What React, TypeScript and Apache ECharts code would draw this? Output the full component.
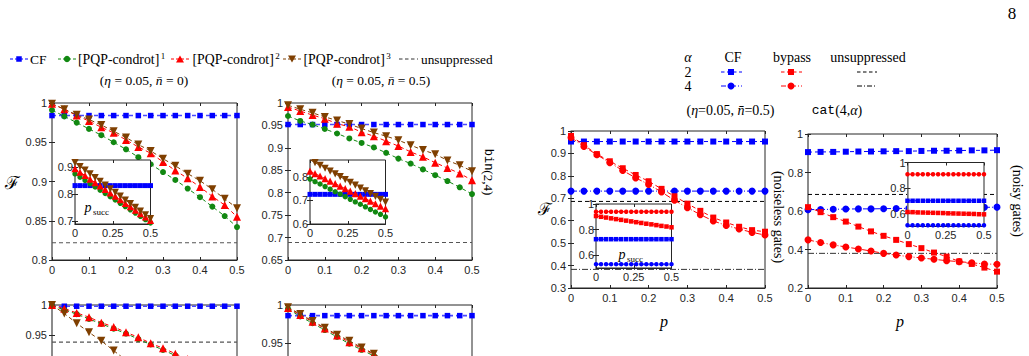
import React, { useEffect, useRef } from "react";
import * as echarts from "echarts";

// ---- sample grid (p) ----
const P = [0, 0.0333, 0.0667, 0.1, 0.1333, 0.1667, 0.2, 0.2333, 0.2667, 0.3, 0.3333, 0.3667, 0.4, 0.4333, 0.4667, 0.5];

// ---- Panel A: (eta=0.05, nbar=0), top-left ----
const A_CF = [0.984, 0.984, 0.984, 0.984, 0.984, 0.984, 0.984, 0.984, 0.984, 0.984, 0.984, 0.984, 0.984, 0.984, 0.984, 0.984];
const A_PQP1 = [0.991, 0.983, 0.975, 0.967, 0.959, 0.95, 0.941, 0.931, 0.922, 0.912, 0.902, 0.891, 0.88, 0.868, 0.856, 0.842];
const A_PQP2 = [0.999, 0.992, 0.984, 0.977, 0.969, 0.962, 0.953, 0.944, 0.936, 0.925, 0.914, 0.904, 0.893, 0.881, 0.87, 0.855];
const A_PQP3 = [0.999, 0.992, 0.985, 0.979, 0.972, 0.964, 0.956, 0.947, 0.939, 0.929, 0.92, 0.91, 0.901, 0.89, 0.878, 0.866];
const A_UNSUP = 0.822;
// inset A (p_succ)
const AI_CF = [0.831, 0.831, 0.831, 0.831, 0.831, 0.831, 0.831, 0.831, 0.831, 0.831, 0.831, 0.831, 0.831, 0.831, 0.831, 0.831];
const AI_PQP1 = [0.874, 0.862, 0.85, 0.838, 0.826, 0.814, 0.802, 0.79, 0.778, 0.766, 0.754, 0.742, 0.73, 0.718, 0.706, 0.694];
const AI_PQP2 = [0.893, 0.88, 0.868, 0.855, 0.842, 0.83, 0.817, 0.804, 0.792, 0.779, 0.766, 0.754, 0.741, 0.728, 0.716, 0.703];
const AI_PQP3 = [0.915, 0.901, 0.888, 0.874, 0.86, 0.847, 0.833, 0.819, 0.806, 0.792, 0.778, 0.765, 0.751, 0.737, 0.724, 0.71];

// ---- Panel B: (eta=0.05, nbar=0.5) ----
const B_CF = [0.952, 0.952, 0.952, 0.952, 0.952, 0.952, 0.952, 0.952, 0.952, 0.952, 0.952, 0.952, 0.952, 0.952, 0.952, 0.952];
const B_PQP1 = [0.971, 0.96, 0.952, 0.942, 0.932, 0.921, 0.911, 0.901, 0.889, 0.876, 0.865, 0.852, 0.839, 0.826, 0.812, 0.797];
const B_PQP2 = [0.991, 0.982, 0.973, 0.965, 0.954, 0.947, 0.935, 0.926, 0.915, 0.904, 0.891, 0.88, 0.867, 0.855, 0.843, 0.828];
const B_PQP3 = [0.995, 0.986, 0.978, 0.969, 0.961, 0.953, 0.943, 0.934, 0.926, 0.917, 0.906, 0.895, 0.886, 0.872, 0.861, 0.848];
const B_UNSUP = 0.689;
const BI_CF = [0.726, 0.726, 0.726, 0.726, 0.726, 0.726, 0.726, 0.726, 0.726, 0.726, 0.726, 0.726, 0.726, 0.726, 0.726, 0.726];
const BI_PQP1 = [0.791, 0.78, 0.77, 0.759, 0.748, 0.737, 0.727, 0.716, 0.705, 0.694, 0.684, 0.673, 0.662, 0.651, 0.641, 0.63];
const BI_PQP2 = [0.825, 0.814, 0.804, 0.793, 0.782, 0.772, 0.761, 0.75, 0.74, 0.729, 0.718, 0.708, 0.697, 0.686, 0.676, 0.665];
const BI_PQP3 = [0.873, 0.861, 0.849, 0.837, 0.825, 0.813, 0.801, 0.789, 0.777, 0.765, 0.753, 0.741, 0.729, 0.717, 0.705, 0.693];

// ---- Panel C: bottom-left (cut off) ----
const C_CF = [0.998, 0.998, 0.998, 0.998, 0.998, 0.998, 0.998, 0.998, 0.998, 0.998, 0.998, 0.998, 0.998, 0.998, 0.998, 0.998];
const C_PQP1 = [0.999, 0.992, 0.985, 0.977, 0.969, 0.961, 0.953, 0.944, 0.935, 0.926, 0.917, 0.908, 0.898, 0.888, 0.877, 0.866];
const C_PQP2 = [1.0, 0.994, 0.987, 0.98, 0.971, 0.964, 0.955, 0.947, 0.937, 0.929, 0.92, 0.911, 0.901, 0.891, 0.88, 0.869];
const C_PQP3 = [1.0, 0.986, 0.97, 0.955, 0.941, 0.925, 0.909, 0.893, 0.877, 0.861, 0.845, 0.829, 0.813, 0.797, 0.781, 0.765];
const C_UNSUP = 0.939;

// ---- Panel D: bottom-right of left block (cut off) ----
const D_CF = [0.986, 0.986, 0.986, 0.986, 0.986, 0.986, 0.986, 0.986, 0.986, 0.986, 0.986, 0.986, 0.986, 0.986, 0.986, 0.986];
const D_PQP1 = [0.995, 0.985, 0.976, 0.967, 0.958, 0.949, 0.941, 0.933, 0.924, 0.915, 0.906, 0.897, 0.887, 0.877, 0.867, 0.857];
const D_PQP2 = [0.996, 0.987, 0.978, 0.969, 0.96, 0.951, 0.943, 0.935, 0.926, 0.917, 0.908, 0.899, 0.889, 0.88, 0.87, 0.86];
const D_PQP3 = [0.997, 0.988, 0.979, 0.97, 0.961, 0.953, 0.944, 0.936, 0.927, 0.918, 0.909, 0.9, 0.891, 0.881, 0.872, 0.862];

// ---- Panel E: cat(4,alpha), noiseless gates ----
const E_CF2 = [0.953, 0.953, 0.953, 0.953, 0.953, 0.953, 0.953, 0.953, 0.953, 0.953, 0.953, 0.953, 0.953, 0.953, 0.953, 0.953];
const E_CF4 = [0.732, 0.732, 0.732, 0.732, 0.732, 0.732, 0.732, 0.732, 0.732, 0.732, 0.732, 0.732, 0.732, 0.732, 0.732, 0.732];
const E_BYP2 = [0.978, 0.937, 0.897, 0.865, 0.834, 0.804, 0.776, 0.742, 0.709, 0.676, 0.644, 0.614, 0.592, 0.573, 0.558, 0.551];
const E_BYP4 = [0.971, 0.931, 0.894, 0.859, 0.824, 0.791, 0.762, 0.728, 0.691, 0.658, 0.627, 0.599, 0.579, 0.563, 0.548, 0.536];
const E_UNSUP2 = 0.686;
const E_UNSUP4 = 0.383;
const EI_CF2 = [0.725, 0.725, 0.725, 0.725, 0.725, 0.725, 0.725, 0.725, 0.725, 0.725, 0.725, 0.725, 0.725, 0.725, 0.725, 0.725];
const EI_CF4 = [0.53, 0.53, 0.53, 0.53, 0.53, 0.53, 0.53, 0.53, 0.53, 0.53, 0.53, 0.53, 0.53, 0.53, 0.53, 0.53];
const EI_BYP2 = [0.906, 0.9, 0.894, 0.888, 0.882, 0.876, 0.87, 0.864, 0.858, 0.852, 0.846, 0.841, 0.835, 0.829, 0.824, 0.818];
const EI_BYP4 = [0.94, 0.94, 0.94, 0.94, 0.94, 0.94, 0.94, 0.94, 0.94, 0.94, 0.94, 0.94, 0.94, 0.94, 0.94, 0.94];

// ---- Panel F: cat(4,alpha), noisy gates ----
const F_CF2 = [0.906, 0.907, 0.907, 0.908, 0.909, 0.909, 0.91, 0.911, 0.911, 0.912, 0.913, 0.913, 0.914, 0.915, 0.915, 0.916];
const F_CF4 = [0.607, 0.608, 0.609, 0.61, 0.611, 0.611, 0.612, 0.613, 0.614, 0.615, 0.615, 0.616, 0.617, 0.618, 0.619, 0.62];
const F_BYP2 = [0.62, 0.594, 0.568, 0.545, 0.519, 0.494, 0.471, 0.45, 0.428, 0.407, 0.384, 0.363, 0.338, 0.325, 0.306, 0.285];
const F_BYP4 = [0.45, 0.436, 0.424, 0.413, 0.403, 0.392, 0.38, 0.371, 0.363, 0.356, 0.349, 0.342, 0.337, 0.331, 0.325, 0.323];
const F_UNSUP2 = 0.686;
const F_UNSUP4 = 0.38;
const FI_CF2 = [0.701, 0.701, 0.701, 0.701, 0.701, 0.701, 0.701, 0.701, 0.701, 0.701, 0.701, 0.701, 0.701, 0.701, 0.701, 0.701];
const FI_CF4 = [0.51, 0.51, 0.51, 0.51, 0.51, 0.51, 0.51, 0.51, 0.51, 0.51, 0.51, 0.51, 0.51, 0.51, 0.51, 0.51];
const FI_BYP2 = [0.613, 0.612, 0.61, 0.609, 0.608, 0.607, 0.606, 0.605, 0.603, 0.602, 0.601, 0.6, 0.599, 0.598, 0.596, 0.595];
const FI_BYP4 = [0.908, 0.908, 0.908, 0.908, 0.908, 0.908, 0.908, 0.908, 0.908, 0.908, 0.908, 0.908, 0.908, 0.908, 0.908, 0.908];

// ---- styling ----
const SANS = "'Liberation Sans', Arial, Helvetica, sans-serif";
const SERIF = "'Liberation Serif', 'Times New Roman', serif";
const MONO = "'Liberation Mono', 'DejaVu Sans Mono', monospace";
const INK = "#262626";
const BLUE = "#0000ff";
const CFBLUE = "#4a4aff";
const RED = "#ff0000";
const GREEN = "#118811";
const BROWN = "#7f3f00";
const DASH = [4, 3];
const DASHDOT = [6, 2, 1, 2];

function fmt(v: number) {
  return String(parseFloat(Number(v).toFixed(4)));
}

function buildOption() {
  const grid: any[] = [];
  const xAxis: any[] = [];
  const yAxis: any[] = [];
  const series: any[] = [];

  function panel(s: any) {
    const gi = grid.length;
    const z = s.z ?? 0;
    grid.push({
      left: s.left, top: s.top, width: s.width, height: s.height,
      show: true, backgroundColor: "#ffffff", borderColor: INK, borderWidth: 1, z,
      containLabel: false, outerBoundsMode: "none",
    });
    const tick = { show: true, inside: true, length: 3, lineStyle: { color: INK, width: 1 } };
    const xi = xAxis.length;
    const xBase: any = { type: "value", gridIndex: gi, min: 0, max: 0.5, splitLine: { show: false }, z: z + 1, silent: true };
    if (!s.xCustom) xBase.interval = 0.1;
    xAxis.push({
      ...xBase, position: "bottom",
      axisLine: { show: true, onZero: false, lineStyle: { color: INK, width: 1 } },
      axisTick: s.xCustom ? { ...tick, customValues: s.xCustom } : tick,
      axisLabel: {
        show: !s.hideX, margin: s.xMargin ?? 4, fontFamily: SANS, fontSize: 11, color: INK, formatter: fmt,
        showMinLabel: true, showMaxLabel: true, ...(s.xCustom ? { customValues: s.xCustom } : {}),
      },
    });
    xAxis.push({
      ...xBase, position: "top",
      axisLine: { show: false },
      axisTick: s.xCustom ? { ...tick, customValues: s.xCustom } : tick,
      axisLabel: { show: false },
    });
    const yi = yAxis.length;
    const yBase: any = { type: "value", gridIndex: gi, min: s.ymin, max: s.ymax, splitLine: { show: false }, z: z + 1, silent: true };
    if (s.yInterval) yBase.interval = s.yInterval;
    const yLab = s.yLabelCustom || s.yCustom;
    yAxis.push({
      ...yBase, position: "left",
      axisLine: { show: true, onZero: false, lineStyle: { color: "#8a8a8a", width: 1.6 } },
      axisTick: s.yCustom ? { ...tick, customValues: s.yCustom } : tick,
      axisLabel: {
        show: true, margin: s.yMargin ?? 5, fontFamily: SANS, fontSize: 11, color: INK, formatter: fmt,
        showMinLabel: true, showMaxLabel: true, ...(yLab ? { customValues: yLab } : {}),
      },
    });
    yAxis.push({
      ...yBase, position: "right",
      axisLine: { show: false },
      axisTick: s.yCustom ? { ...tick, customValues: s.yCustom } : tick,
      axisLabel: { show: false },
    });
    return { xi, yi, z };
  }

  function line(ax: any, data: number[], color: string, lineColor: string, symbol: string, size: number, dash: any, rotate = 0, width = 1) {
    series.push({
      type: "line", xAxisIndex: ax.xi, yAxisIndex: ax.yi,
      data: P.map((p, i) => [p, data[i]]),
      symbol, symbolSize: size, symbolRotate: rotate,
      itemStyle: { color, borderWidth: 0 },
      lineStyle: { color: lineColor, width, type: dash },
      z: ax.z + 2, silent: true, animation: false, clip: true,
    });
  }
  function hline(ax: any, v: number, color: string, dash: any, width = 1.2) {
    series.push({
      type: "line", xAxisIndex: ax.xi, yAxisIndex: ax.yi,
      data: [[0, v], [0.5, v]], symbol: "none",
      lineStyle: { color, width, type: dash },
      z: ax.z + 2, silent: true, animation: false, clip: true,
    });
  }
  function leftSet(ax: any, cf: number[], g: number[], r: number[], b: number[], k = 1) {
    line(ax, cf, BLUE, CFBLUE, "rect", 5.5 * k, DASH, 0, 1.6);
    line(ax, g, GREEN, GREEN, "circle", 6 * k, DASH);
    line(ax, r, RED, RED, "triangle", 8 * k, DASH);
    line(ax, b, BROWN, BROWN, "triangle", 8 * k, DASH, 180);
  }

  // Panel A
  const A = panel({ left: 52, top: 103, width: 185, height: 157, ymin: 0.8, ymax: 1, yInterval: 0.05 });
  hline(A, A_UNSUP, "#555555", DASH);
  leftSet(A, A_CF, A_PQP1, A_PQP2, A_PQP3);
  // Panel B
  const B = panel({ left: 288, top: 103, width: 184, height: 157, ymin: 0.65, ymax: 1, yInterval: 0.05 });
  hline(B, B_UNSUP, "#555555", DASH);
  leftSet(B, B_CF, B_PQP1, B_PQP2, B_PQP3);
  // Panel C (runs off the bottom of the page)
  const C = panel({ left: 52, top: 305, width: 185, height: 152, ymin: 0.75, ymax: 1, yInterval: 0.05, yLabelCustom: [0.95, 1], hideX: true });
  hline(C, C_UNSUP, "#555555", DASH);
  leftSet(C, C_CF, C_PQP1, C_PQP2, C_PQP3);
  // Panel D (runs off the bottom of the page)
  const D = panel({ left: 288, top: 305, width: 184, height: 152, ymin: 0.8, ymax: 1, yInterval: 0.05, yLabelCustom: [0.95, 1], hideX: true });
  leftSet(D, D_CF, D_PQP1, D_PQP2, D_PQP3);
  // Panel E
  const E = panel({ left: 571, top: 131, width: 194, height: 157, ymin: 0.3, ymax: 1, yInterval: 0.1 });
  hline(E, E_UNSUP2, "#000000", DASH, 1);
  hline(E, E_UNSUP4, "#333333", DASHDOT, 1);
  line(E, E_CF2, BLUE, BLUE, "rect", 6, DASH);
  line(E, E_CF4, BLUE, BLUE, "circle", 7, DASHDOT);
  line(E, E_BYP2, RED, RED, "rect", 6, DASH);
  line(E, E_BYP4, RED, RED, "circle", 7, DASHDOT);
  // Panel F
  const F = panel({ left: 808, top: 134, width: 189, height: 154, ymin: 0.2, ymax: 1, yInterval: 0.2 });
  hline(F, F_UNSUP2, "#000000", DASH, 1);
  hline(F, F_UNSUP4, "#333333", DASHDOT, 1);
  line(F, F_CF2, BLUE, BLUE, "rect", 6, DASH);
  line(F, F_CF4, BLUE, BLUE, "circle", 7, DASHDOT);
  line(F, F_BYP2, RED, RED, "rect", 6, DASH);
  line(F, F_BYP4, RED, RED, "circle", 7, DASHDOT);

  // Insets
  const AI = panel({ left: 75, top: 160, width: 75.5, height: 64, ymin: 0.69, ymax: 0.925, yCustom: [0.7, 0.8, 0.9], xCustom: [0, 0.25, 0.5], xMargin: 3, yMargin: 2, z: 10 });
  leftSet(AI, AI_CF, AI_PQP1, AI_PQP2, AI_PQP3, 0.9);
  const BI = panel({ left: 310, top: 160, width: 75.5, height: 64, ymin: 0.6, ymax: 0.872, yCustom: [0.6, 0.7, 0.8], xCustom: [0, 0.25, 0.5], xMargin: 3, yMargin: 2, z: 10 });
  leftSet(BI, BI_CF, BI_PQP1, BI_PQP2, BI_PQP3, 0.9);
  const EI = panel({ left: 596, top: 204, width: 75.5, height: 64, ymin: 0.5, ymax: 1, yCustom: [0.6, 0.8, 1], xCustom: [0, 0.25, 0.5], xMargin: 3, yMargin: 2, z: 10 });
  line(EI, EI_BYP4, RED, RED, "circle", 4.5, DASHDOT);
  line(EI, EI_BYP2, RED, RED, "rect", 4.5, DASH);
  line(EI, EI_CF2, BLUE, BLUE, "rect", 4.5, DASH);
  line(EI, EI_CF4, BLUE, BLUE, "circle", 4.5, DASHDOT);
  const FI = panel({ left: 907.5, top: 162.5, width: 76.5, height: 64, ymin: 0.5, ymax: 1, yCustom: [0.6, 0.8, 1], xCustom: [0, 0.25, 0.5], xMargin: 3, yMargin: 2, z: 10 });
  line(FI, FI_BYP4, RED, RED, "circle", 4.5, DASHDOT);
  line(FI, FI_BYP2, RED, RED, "rect", 4.5, DASH);
  line(FI, FI_CF2, BLUE, BLUE, "rect", 4.5, DASH);
  line(FI, FI_CF4, BLUE, BLUE, "circle", 4.5, DASHDOT);

  // ---- graphic annotations ----
  const g: any[] = [];
  const txt = (text: string, x: number, y: number, font: string, align = "left", extra: any = {}) =>
    g.push({
      type: "text", x, y, z: 50, silent: true, ...extra,
      style: { text, font, fill: "#000", textAlign: align, align, textVerticalAlign: "middle", verticalAlign: "middle" },
    });
  const seg = (x1: number, y1: number, x2: number, y2: number, stroke: string, dash: any, lw = 1) =>
    g.push({ type: "line", z: 50, silent: true, shape: { x1, y1, x2, y2 }, style: { stroke, lineWidth: lw, lineDash: dash } });
  const sq = (x: number, y: number, s: number, fill: string) =>
    g.push({ type: "rect", z: 51, silent: true, shape: { x: x - s / 2, y: y - s / 2, width: s, height: s }, style: { fill } });
  const dot = (x: number, y: number, r: number, fill: string) =>
    g.push({ type: "circle", z: 51, silent: true, shape: { cx: x, cy: y, r }, style: { fill } });
  const tri = (x: number, y: number, s: number, fill: string, down = false) => {
    const h = s * 0.87;
    const pts = down
      ? [[x - s / 2, y - h / 2], [x + s / 2, y - h / 2], [x, y + h / 2]]
      : [[x - s / 2, y + h / 2], [x + s / 2, y + h / 2], [x, y - h / 2]];
    g.push({ type: "polygon", z: 51, silent: true, shape: { points: pts }, style: { fill } });
  };
  const supRich = {
    b: { fontFamily: SERIF, fontSize: 13.8, fill: "#000", color: "#000", verticalAlign: "middle", lineHeight: 16 },
    s: { fontFamily: SERIF, fontSize: 9, fill: "#000", color: "#000", verticalAlign: "top", lineHeight: 16, padding: [0, 0, 0, 1.5] },
  };
  const supTxt = (base: string, sup: string, x: number, y: number) =>
    g.push({
      type: "text", x, y, z: 50, silent: true,
      style: { text: `{b|${base}}{s|${sup}}`, rich: supRich, textAlign: "left", align: "left", textVerticalAlign: "middle", verticalAlign: "middle" },
    });

  const F14 = `14px ${SERIF}`;
  // left legend
  const LY = 59;
  seg(10, LY, 28, LY, BLUE, [3, 2]); sq(19, LY, 5.5, BLUE); txt("CF", 30, LY, `13.5px ${SERIF}`);
  seg(58, LY, 76, LY, GREEN, [3, 2]); dot(67, LY, 3.2, GREEN); supTxt("[PQP-condrot]", "1", 78, LY);
  seg(171, LY, 189, LY, RED, [3, 2]); tri(180, LY, 8, RED); supTxt("[PQP-condrot]", "2", 192.5, LY);
  seg(283, LY, 301, LY, BROWN, [3, 2]); tri(292, LY, 8, BROWN, true); supTxt("[PQP-condrot]", "3", 303.5, LY);
  seg(399, LY, 418, LY, "#333", [3.5, 2.5]); txt("unsuppressed", 421, LY, `13.3px ${SERIF}`);

  const rich13 = {
    n: { fontFamily: SERIF, fontSize: 13.5, fill: "#000", color: "#000" },
    i: { fontFamily: SERIF, fontSize: 13.5, fontStyle: "italic", fill: "#000", color: "#000" },
  };
  g.push({ type: "text", x: 144, y: 80, z: 50, silent: true, style: { text: "{n|(}{i|η}{n| = 0.05, }{i|n̄}{n| = 0)}", rich: rich13, textAlign: "center", align: "center", textVerticalAlign: "middle", verticalAlign: "middle" } });
  g.push({ type: "text", x: 381, y: 80, z: 50, silent: true, style: { text: "{n|(}{i|η}{n| = 0.05, }{i|n̄}{n| = 0.5)}", rich: rich13, textAlign: "center", align: "center", textVerticalAlign: "middle", verticalAlign: "middle" } });

  // y-axis script F labels
  txt("ℱ", 12.5, 182, `18px 'DejaVu Serif', ${SERIF}`, "center");
  txt("ℱ", 545, 209, `17px 'DejaVu Serif', ${SERIF}`, "center");

  // p_succ in insets
  txt("p", 88, 207, `italic 14px ${SERIF}`, "center");
  txt("succ", 93, 212, `9px ${SERIF}`, "left");
  txt("p", 622, 254, `italic 14px ${SERIF}`, "center");
  txt("succ", 627, 259, `9px ${SERIF}`, "left");

  // bin(2,4) rotated label
  g.push({
    type: "text", x: 488, y: 172, rotation: -Math.PI / 2, z: 50, silent: true,
    style: {
      text: "{m|bin}{n|(2,4)}",
      rich: { m: { fontFamily: MONO, fontSize: 12, color: "#000", fill: "#000" }, n: { fontFamily: SERIF, fontSize: 13, color: "#000", fill: "#000" } },
      textAlign: "center", align: "center", textVerticalAlign: "middle", verticalAlign: "middle",
    },
  });

  // right legend
  txt("α", 688, 57, `italic 14px ${SERIF}`, "center");
  txt("CF", 733, 57, F14, "center");
  txt("bypass", 792, 57, F14, "center");
  txt("unsuppressed", 868, 57, F14, "center");
  txt("2", 688, 72, F14, "center");
  txt("4", 688, 86, F14, "center");
  seg(721, 72, 742, 72, BLUE, [3.5, 2.5]); sq(731, 72, 6, BLUE);
  seg(781, 72, 802, 72, RED, [3.5, 2.5]); sq(791, 72, 6, RED);
  seg(857, 72, 877, 72, "#000", [3.5, 2.5]);
  seg(721, 86, 742, 86, BLUE, [5, 2, 1, 2]); dot(731, 86, 3.5, BLUE);
  seg(781, 86, 802, 86, RED, [5, 2, 1, 2]); dot(791, 86, 3.5, RED);
  seg(857, 86, 877, 86, "#000", [5, 2, 1, 2]);
  const rich14 = {
    n: { fontFamily: SERIF, fontSize: 14, fill: "#000", color: "#000" },
    i: { fontFamily: SERIF, fontSize: 14, fontStyle: "italic", fill: "#000", color: "#000" },
    m: { fontFamily: MONO, fontSize: 13, fill: "#000", color: "#000" },
  };
  g.push({ type: "text", x: 730.5, y: 110, z: 50, silent: true, style: { text: "{n|(}{i|η}{n|=0.05, }{i|n̄}{n|=0.5)}", rich: rich14, textAlign: "center", align: "center", textVerticalAlign: "middle", verticalAlign: "middle" } });
  g.push({ type: "text", x: 837, y: 110, z: 50, silent: true, style: { text: "{m|cat}{n|(4,}{i|α}{n|)}", rich: rich14, textAlign: "center", align: "center", textVerticalAlign: "middle", verticalAlign: "middle" } });

  // x-axis titles
  txt("p", 664, 321, `italic 16px ${SERIF}`, "center");
  txt("p", 900, 321, `italic 16px ${SERIF}`, "center");

  // rotated side labels
  g.push({ type: "text", x: 778, y: 217, rotation: -Math.PI / 2, z: 50, silent: true, style: { text: "(noiseless gates)", font: F14, fill: "#000", textAlign: "center", align: "center", textVerticalAlign: "middle", verticalAlign: "middle" } });
  g.push({ type: "text", x: 1017, y: 201, rotation: -Math.PI / 2, z: 50, silent: true, style: { text: "(noisy gates)", font: F14, fill: "#000", textAlign: "center", align: "center", textVerticalAlign: "middle", verticalAlign: "middle" } });

  // page number
  txt("8", 1012, 13, `17px ${SERIF}`, "center");

  return {
    animation: false,
    backgroundColor: "#ffffff",
    grid, xAxis, yAxis, series,
    graphic: { elements: g },
  };
}

export default function App() {
  const ref = useRef<HTMLDivElement>(null);
  useEffect(() => {
    if (!ref.current) return;
    const chart = echarts.init(ref.current, undefined, { renderer: "svg" });
    chart.setOption(buildOption() as any);
    return () => chart.dispose();
  }, []);
  return (
    <div
      ref={ref}
      style={{ position: "absolute", left: 0, top: 0, width: 1029, height: 356, background: "#fff" }}
    />
  );
}
